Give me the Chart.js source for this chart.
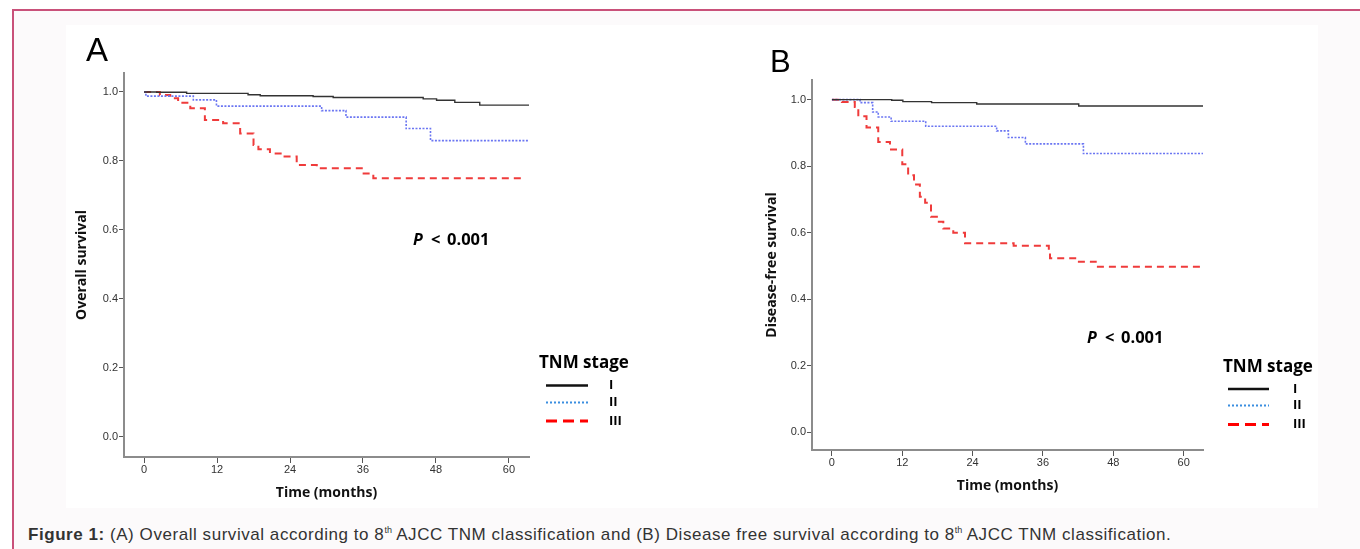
<!DOCTYPE html>
<html lang="en">
<head>
  <meta charset="UTF-8">
  <title>Figure 1: Survival according to 8th AJCC TNM classification</title>
  <style>
    * { box-sizing: border-box; margin: 0; padding: 0; }
    body {
      width: 1360px;
      height: 549px;
      background: #fff;
      overflow: hidden;
      position: relative;
      font-family: "Liberation Sans", Arial, sans-serif;
    }
    .frame {
      position: absolute;
      left: 12px; top: 9px;
      width: 1400px; height: 600px;
      background: #fcfafb;
      border-left: 2px solid #c9517a;
      border-top: 2px solid #c9517a;
    }
    .panel {
      position: absolute;
      left: 66px; top: 25px;
      width: 1252px; height: 483px;
      background: #fff;
    }
    canvas { position: absolute; top: 25px; }
    #chartA { left: 66px; }
    #chartB { left: 700px; }
    .caption {
      position: absolute;
      left: 28px; top: 525px;
      font-size: 17px;
      letter-spacing: 0.55px;
      line-height: 20px;
      color: #333;
      white-space: nowrap;
    }
    .caption sup { font-size: 9px; letter-spacing: 0; line-height: 0; vertical-align: 7px; }
  </style>
</head>
<body>
  <div class="frame"></div>
  <div class="panel"></div>
  <canvas id="chartA" width="634" height="483"></canvas>
  <canvas id="chartB" width="618" height="483"></canvas>
  <div class="caption"><b>Figure 1:</b> (A) Overall survival according to 8<sup>th</sup> AJCC TNM classification and (B) Disease free survival according to 8<sup>th</sup> AJCC TNM classification.</div>

  <script src="https://cdn.jsdelivr.net/npm/chart.js"></script>
  <script>
    // axis ticks and stage names
    const xTicks = [0, 12, 24, 36, 48, 60];
    const yTicks = [0, 0.2, 0.4, 0.6, 0.8, 1.0];
    const stageLabels = ['I', 'II', 'III'];

    // (A) overall survival - step times (months) and survival after each step
    const osTimeI   = [0, 2.1, 7.0, 17.1, 19.1, 27.8, 31.1, 45.9, 48.1, 51.1, 55.2, 63.3];
    const osSurvI   = [1.0, 0.999, 0.996, 0.992, 0.989, 0.987, 0.984, 0.980, 0.976, 0.970, 0.962, 0.962];
    const osTimeII  = [0, 0.3, 8.1, 11.9, 29.2, 33.2, 43.1, 47.1, 63.3];
    const osSurvII  = [1.0, 0.988, 0.977, 0.959, 0.946, 0.927, 0.894, 0.859, 0.859];
    const osTimeIII = [0, 2.6, 4.3, 5.6, 7.6, 10.0, 13.0, 15.8, 18.0, 18.8, 20.7, 22.9, 25.1, 28.4, 35.8, 37.7, 62.6];
    const osSurvIII = [1.0, 0.991, 0.982, 0.969, 0.953, 0.919, 0.909, 0.880, 0.846, 0.834, 0.822, 0.813, 0.788, 0.779, 0.764, 0.750, 0.750];

    // (B) disease-free survival
    const dfsTimeI   = [0, 10.2, 12.1, 17.0, 24.7, 42.1, 63.4];
    const dfsSurvI   = [1.0, 0.998, 0.994, 0.991, 0.987, 0.981, 0.981];
    const dfsTimeII  = [0, 4.8, 6.95, 7.9, 10.1, 16.0, 28.1, 30.1, 33.0, 42.9, 63.4];
    const dfsSurvII  = [1.0, 0.991, 0.963, 0.948, 0.935, 0.920, 0.906, 0.886, 0.867, 0.838, 0.838];
    const dfsTimeIII = [0, 1.7, 3.9, 4.5, 5.9, 7.9, 9.9, 12.0, 13.0, 14.0, 15.0, 15.9, 16.9, 17.9, 19.0, 20.7, 22.7, 31.0, 37.0, 37.2, 41.5, 45.0, 63.4];
    const dfsSurvIII = [1.0, 0.993, 0.978, 0.950, 0.916, 0.873, 0.850, 0.806, 0.773, 0.745, 0.708, 0.690, 0.648, 0.633, 0.613, 0.600, 0.568, 0.561, 0.543, 0.523, 0.513, 0.498, 0.498];

    const toPoints = (ts, ss) => ts.map((t, i) => ({ x: t, y: ss[i] }));

    // line looks on the plot
    const curveStyle = [
      { borderColor: '#333333', borderWidth: 1.4, borderDash: [] },
      { borderColor: '#6b76f2', borderWidth: 1.6, borderDash: [2, 1.5] },
      { borderColor: '#ef3b3b', borderWidth: 2, borderDash: [7, 5] }
    ];
    // line looks in the legend
    const legendStyle = [
      { color: '#111', width: 2.5, dash: [] },
      { color: '#3a8ee0', width: 2, dash: [2, 2] },
      { color: '#ff0000', width: 3, dash: [11, 6] }
    ];

    // letter, p value and the legend block
    const figureExtras = {
      id: 'figureExtras',
      afterDraw(chart, args, o) {
        const ctx = chart.ctx;
        ctx.save();
        ctx.fillStyle = '#000';
        ctx.textAlign = 'left';
        ctx.textBaseline = 'alphabetic';
        ctx.font = o.letterFont;
        ctx.fillText(o.letter, o.letterX, o.letterY);

        ctx.font = 'italic bold 16px "Open Sans"';
        ctx.fillText('P', o.pX, o.pY);
        ctx.font = 'bold 16.5px "Open Sans"';
        ctx.fillText('<', o.pX + 18, o.pY);
        ctx.fillText('0.001', o.pX + 34, o.pY);

        const lg = o.legend;
        ctx.font = 'bold 17px "Open Sans"';
        ctx.textBaseline = 'middle';
        ctx.fillText('TNM stage', lg.x, lg.titleY);
        ctx.font = 'bold 13px "Open Sans"';
        stageLabels.forEach((lab, i) => {
          const st = legendStyle[i];
          const y = lg.rows[i];
          ctx.beginPath();
          ctx.strokeStyle = st.color;
          ctx.lineWidth = st.width;
          ctx.setLineDash(st.dash);
          ctx.moveTo(lg.lineX0, y);
          ctx.lineTo(lg.lineX1, y);
          ctx.stroke();
          ctx.setLineDash([]);
          ctx.fillText(lab, lg.labelX, y);
        });
        ctx.restore();
      }
    };

    function makeChart(id, series, yTitle, box) {
      const datasets = series.map((pts, i) => Object.assign({
        label: stageLabels[i],
        data: pts,
        stepped: 'before',
        pointRadius: 0,
        fill: false
      }, curveStyle[i]));

      const tickFont = { family: '"Liberation Sans", Arial, sans-serif', size: 11 };
      const titleFont = { family: '"Open Sans", sans-serif', size: 14, weight: 'bold' };

      return new Chart(document.getElementById(id), {
        type: 'line',
        data: { datasets },
        options: {
          responsive: false,
          animation: false,
          layout: { padding: box.padding },
          plugins: {
            legend: { display: false },
            tooltip: { enabled: false },
            figureExtras: box.extras
          },
          scales: {
            x: {
              type: 'linear',
              min: box.xMin, max: box.xMax,
              afterBuildTicks: s => { s.ticks = xTicks.map(v => ({ value: v })); },
              afterFit: s => { s.height = box.xHeight; },
              grid: { drawOnChartArea: false, tickLength: 6, color: '#555' },
              border: { color: '#8c8c8c', width: 2 },
              ticks: { color: '#333', font: tickFont, padding: 0, maxRotation: 0 },
              title: { display: true, text: 'Time (months)', color: '#111', font: titleFont,
                       padding: { top: 0, bottom: box.xTitlePad } }
            },
            y: {
              min: box.yMin, max: box.yMax,
              afterBuildTicks: s => { s.ticks = yTicks.map(v => ({ value: v })); },
              afterFit: s => { s.width = 58; },
              grid: { drawOnChartArea: false, tickLength: 5, color: '#555' },
              border: { color: '#8c8c8c', width: 2 },
              ticks: { color: '#333', font: tickFont, padding: 1, callback: v => v.toFixed(1) },
              title: { display: true, text: yTitle, color: '#111', font: titleFont,
                       padding: { top: box.yTitlePad, bottom: 0 } }
            }
          }
        },
        plugins: [figureExtras]
      });
    }

    makeChart('chartA', [
      toPoints(osTimeI, osSurvI),
      toPoints(osTimeII, osSurvII),
      toPoints(osTimeIII, osSurvIII)
    ], 'Overall survival', {
      padding: { left: 0, top: 48, right: 171, bottom: 0 },
      xMin: -3.3, xMax: 63.3, yMin: -0.058, yMax: 1.055,
      xHeight: 51, xTitlePad: 6.6, yTitlePad: 8.1,
      extras: {
        letter: 'A', letterFont: '33px "Liberation Sans"', letterX: 20, letterY: 36,
        pX: 347, pY: 220,
        legend: { x: 473, titleY: 338, lineX0: 480, lineX1: 522, labelX: 543, rows: [360.5, 377.5, 396] }
      }
    });

    makeChart('chartB', [
      toPoints(dfsTimeI, dfsSurvI),
      toPoints(dfsTimeII, dfsSurvII),
      toPoints(dfsTimeIII, dfsSurvIII)
    ], 'Disease-free survival', {
      padding: { left: 54, top: 55, right: 115, bottom: 0 },
      xMin: -3.4, xMax: 63.3, yMin: -0.053, yMax: 1.059,
      xHeight: 58, xTitlePad: 13.6, yTitlePad: 10.1,
      extras: {
        letter: 'B', letterFont: '31px "Liberation Sans"', letterX: 70, letterY: 47,
        pX: 387, pY: 318,
        legend: { x: 523, titleY: 342, lineX0: 528, lineX1: 569, labelX: 593, rows: [364, 380.5, 399.5] }
      }
    });
  </script>
</body>
</html>
